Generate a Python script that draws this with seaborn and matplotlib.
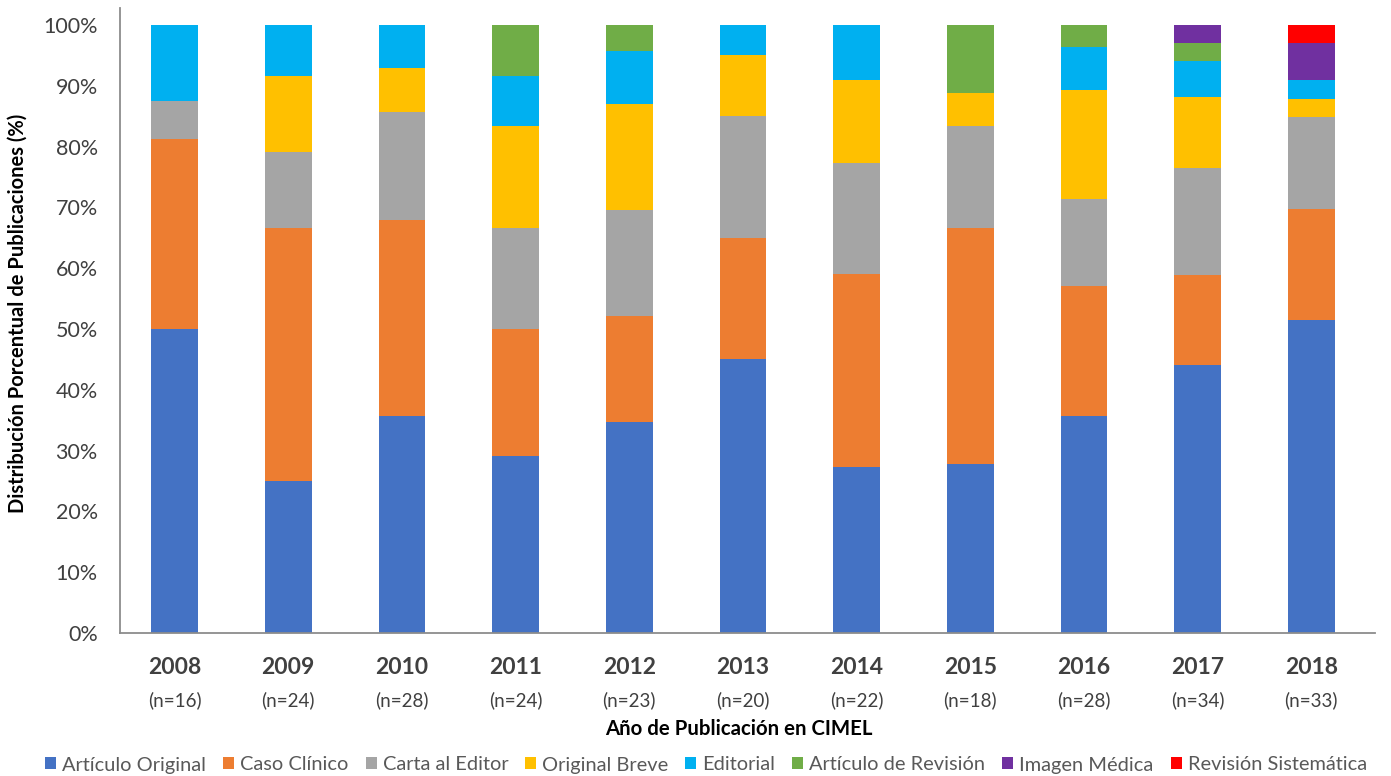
import numpy as np
import pandas as pd
import matplotlib
matplotlib.use("Agg")
import matplotlib.pyplot as plt
from matplotlib.patches import Patch
import matplotlib.transforms as mtransforms
import seaborn as sns

years = ["2008", "2009", "2010", "2011", "2012", "2013", "2014", "2015", "2016", "2017", "2018"]
n_total = [16, 24, 28, 24, 23, 20, 22, 18, 28, 34, 33]

categories = ["Artículo Original", "Caso Clínico", "Carta al Editor", "Original Breve",
              "Editorial", "Artículo de Revisión", "Imagen Médica", "Revisión Sistemática"]

# counts per publication type
articulo_original = [8, 6, 10, 7, 8, 9, 6, 5, 10, 15, 17]
caso_clinico      = [5, 10, 9, 5, 4, 4, 7, 7, 6, 5, 6]
carta_editor      = [1, 3, 5, 4, 4, 4, 4, 3, 4, 6, 5]
original_breve    = [0, 3, 2, 4, 4, 2, 3, 1, 5, 4, 1]
editorial         = [2, 2, 2, 2, 2, 1, 2, 0, 2, 2, 1]
articulo_revision = [0, 0, 0, 2, 1, 0, 0, 2, 1, 1, 0]
imagen_medica     = [0, 0, 0, 0, 0, 0, 0, 0, 0, 1, 2]
revision_sistem   = [0, 0, 0, 0, 0, 0, 0, 0, 0, 0, 1]

colors = ["#4472C4", "#ED7D31", "#A5A5A5", "#FFC000", "#00B0F0", "#70AD47", "#7030A0", "#FF0000"]

series = [articulo_original, caso_clinico, carta_editor, original_breve,
          editorial, articulo_revision, imagen_medica, revision_sistem]

sns.set_theme(style="white")
plt.rcParams["font.family"] = ["Lato", "DejaVu Sans"]

n_arr = np.array(n_total, dtype=float)
pct = np.array([np.array(s) / n_arr * 100 for s in series])
cum = np.cumsum(pct, axis=0)

fig = plt.figure(figsize=(13.91, 7.76), dpi=100)
ax = fig.add_axes([120 / 1391, 1 - 633 / 776, (1375 - 120) / 1391, (633 - 8) / 776])

# draw cumulative layers from the top down so each category shows its own segment
for i in range(len(categories) - 1, -1, -1):
    df = pd.DataFrame({"year": years, "value": cum[i]})
    sns.barplot(data=df, x="year", y="value", color=colors[i], saturation=1,
                width=0.41, ax=ax, linewidth=0, order=years)

ax.set_ylim(0, 102.8)
ax.set_xlim(-0.48, len(years) - 1 + 0.56)
ax.set_yticks(np.arange(0, 101, 10))
ax.set_yticklabels([f"{v}%" for v in range(0, 101, 10)], fontsize=15.5, color="#404040")
ax.tick_params(axis="y", length=0, pad=16)
ax.set_xticks(range(len(years)))
ax.set_xticklabels([""] * len(years))
ax.tick_params(axis="x", length=0)
ax.set_xlabel("")
ax.set_ylabel("")
for side in ["top", "right"]:
    ax.spines[side].set_visible(False)
for side in ["left", "bottom"]:
    ax.spines[side].set_color("#8C8C8C")
    ax.spines[side].set_linewidth(1.3)

trans = mtransforms.blended_transform_factory(ax.transData, fig.transFigure)
for i, (y, n) in enumerate(zip(years, n_total)):
    ax.text(i, 1 - 667 / 776, y, transform=trans, ha="center", va="center",
            fontsize=16.5, fontweight="bold", color="#404040")
    ax.text(i, 1 - 700 / 776, f"(n={n})", transform=trans, ha="center", va="center",
            fontsize=13.5, color="#404040")

fig.text(739 / 1391, 1 - 729 / 776, "Año de Publicación en CIMEL", ha="center", va="center",
         fontsize=14.7, fontweight="bold", color="#000000")
fig.text(18 / 1391, 1 - 313 / 776, "Distribución Porcentual de Publicaciones (%)",
         ha="center", va="center", rotation=90, fontsize=14.5, fontweight="bold", color="#000000")

handles = [Patch(facecolor=c, edgecolor="none") for c in colors]
leg = fig.legend(handles, categories, loc="center", bbox_to_anchor=(706 / 1391, 1 - 765 / 776),
                 ncol=8, frameon=False, fontsize=14.4, handlelength=0.55, handleheight=0.55,
                 handletextpad=0.3, columnspacing=0.85, borderpad=0)
for t in leg.get_texts():
    t.set_color("#595959")

fig.savefig("out.png", dpi=100)
